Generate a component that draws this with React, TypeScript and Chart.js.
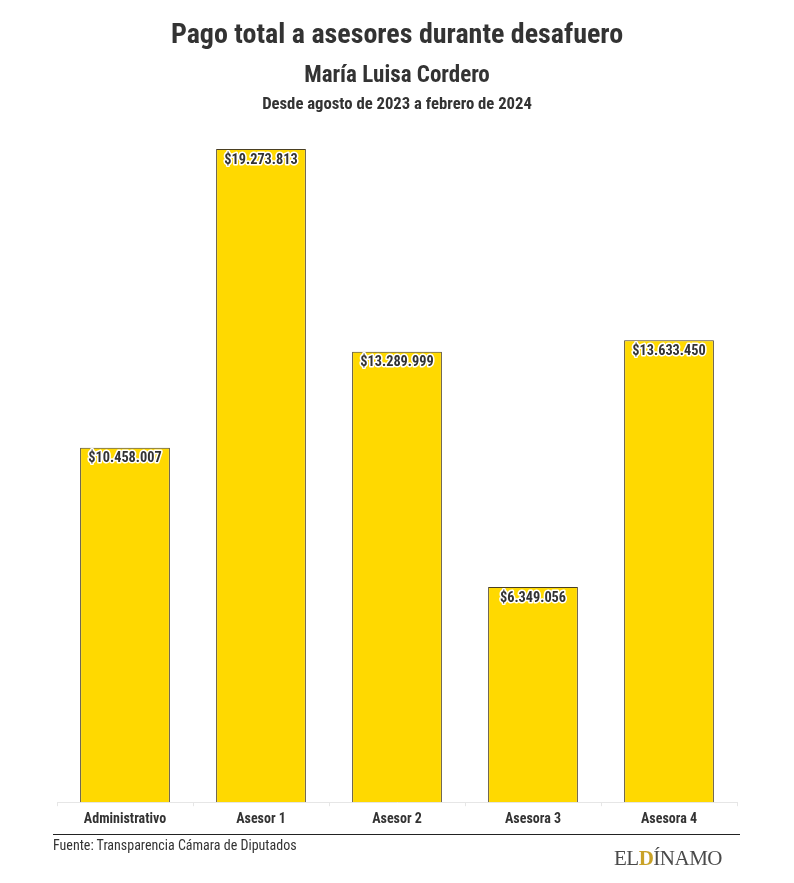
import React, { useEffect, useRef } from "react";
import { Chart, registerables } from "chart.js";

Chart.register(...registerables);

const categories = ["Administrativo", "Asesor 1", "Asesor 2", "Asesora 3", "Asesora 4"];
const values = [10458007, 19273813, 13289999, 6349056, 13633450];
const yMax = 19600000;

const FONT = "'Roboto Condensed', 'Liberation Sans Narrow', 'DejaVu Sans Condensed', Roboto, sans-serif";

const fmt = (v: number) => "$" + v.toString().replace(/\B(?=(\d{3})+(?!\d))/g, ".");

const labelPlugin = {
  id: "barLabels",
  afterDatasetsDraw(chart: any) {
    const ctx = chart.ctx;
    const meta = chart.getDatasetMeta(0);
    ctx.save();
    ctx.font = `bold 14.3px ${FONT}`;
    ctx.textAlign = "center";
    ctx.textBaseline = "middle";
    ctx.lineJoin = "round";
    meta.data.forEach((bar: any, i: number) => {
      const t = fmt(values[i]);
      const y = bar.y + 11;
      ctx.strokeStyle = "#ffffff";
      ctx.lineWidth = 3;
      ctx.strokeText(t, bar.x, y);
      ctx.fillStyle = "#333333";
      ctx.fillText(t, bar.x, y);
    });
    ctx.restore();
  },
};

export default function App() {
  const ref = useRef<HTMLCanvasElement>(null);
  useEffect(() => {
    if (!ref.current) return;
    const chart = new Chart(ref.current, {
      type: "bar",
      data: {
        labels: categories,
        datasets: [
          {
            data: values,
            backgroundColor: "#FFD900",
            borderColor: "#4a3f22",
            borderWidth: 1,
            barPercentage: 0.66,
            categoryPercentage: 1,
          },
        ],
      },
      options: {
        animation: false,
        responsive: false,
        maintainAspectRatio: false,
        layout: { padding: { left: 57, right: 57, top: 138, bottom: 50 } },
        plugins: { legend: { display: false }, tooltip: { enabled: false } },
        scales: {
          x: {
            grid: {
              display: true,
              drawOnChartArea: false,
              drawTicks: true,
              tickLength: 4,
              color: "#e6e6e6",
            },
            border: { display: true, color: "#e6e6e6", width: 1 },
            ticks: {
              color: "#333333",
              font: { family: FONT, size: 14, weight: "bold" },
              padding: 5,
            },
          },
          y: { display: false, min: 0, max: yMax },
        },
      },
      plugins: [labelPlugin],
    });
    return () => chart.destroy();
  }, []);

  const txt: React.CSSProperties = {
    position: "absolute",
    left: 0,
    width: 794,
    textAlign: "center",
    fontFamily: FONT,
    fontWeight: 700,
    color: "#333333",
    whiteSpace: "nowrap",
  };

  return (
    <div style={{ position: "absolute", left: 0, top: 0, width: 794, height: 883, background: "#fff" }}>
      <canvas ref={ref} width={794} height={883} style={{ position: "absolute", left: 0, top: 0 }} />
      <div style={{ ...txt, top: 15, fontSize: 28, lineHeight: "38px" }}>Pago total a asesores durante desafuero</div>
      <div style={{ ...txt, top: 61, fontSize: 23, lineHeight: "28px" }}>María Luisa Cordero</div>
      <div style={{ ...txt, top: 94, fontSize: 16.7, lineHeight: "20px" }}>Desde agosto de 2023 a febrero de 2024</div>
      <div style={{ position: "absolute", left: 53, top: 834, width: 687, height: 1, background: "#222" }} />
      <div
        style={{
          position: "absolute",
          left: 53,
          top: 836,
          fontFamily: FONT,
          fontSize: 14,
          lineHeight: "18px",
          color: "#333",
          whiteSpace: "nowrap",
        }}
      >
        Fuente: Transparencia Cámara de Diputados
      </div>
      <div
        style={{
          position: "absolute",
          left: 614,
          top: 846,
          fontFamily: "'Liberation Serif', 'DejaVu Serif', serif",
          fontSize: 21,
          color: "#4a4a4a",
          whiteSpace: "nowrap",
          letterSpacing: "-0.5px",
        }}
      >
        EL<span style={{ color: "#c9a227", fontWeight: 700 }}>D</span>ÍNAMO
      </div>
    </div>
  );
}
